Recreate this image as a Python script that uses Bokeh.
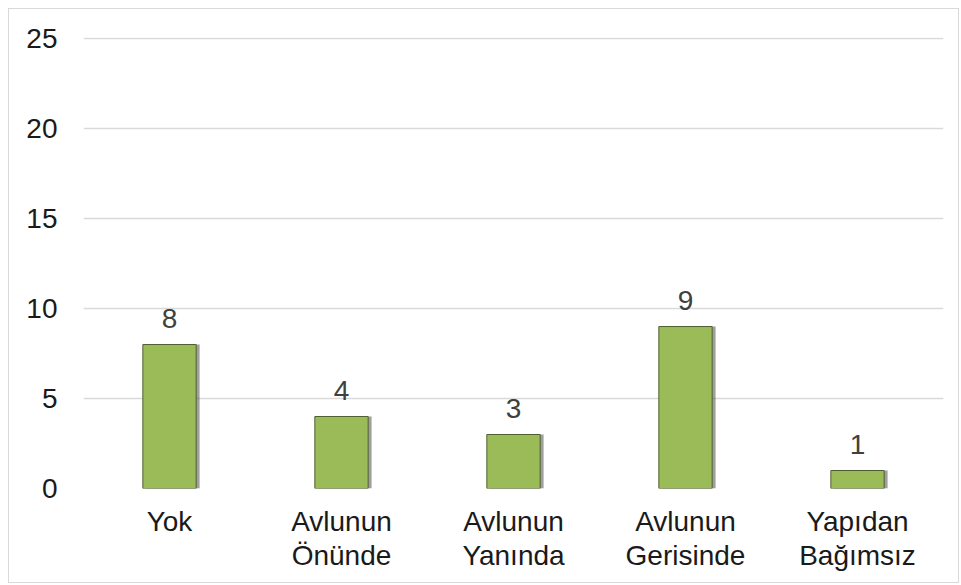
from bokeh.plotting import figure
from bokeh.models import ColumnDataSource, LabelSet, FactorRange
from bokeh.core.properties import value
from bokeh.transform import dodge
from bokeh.embed import file_html
from bokeh.resources import INLINE

categories = ["Yok", "Avlunun\nÖnünde", "Avlunun\nYanında", "Avlunun\nGerisinde", "Yapıdan\nBağımsız"]
values = [8, 4, 3, 9, 1]
y_ticks = [0, 5, 10, 15, 20, 25]

FONT = "Liberation Sans"
BAR_W = 0.31

src = ColumnDataSource(dict(x=categories, top=values, lab=[str(v) for v in values]))

p = figure(x_range=FactorRange(*categories), y_range=(0, 25.06),
           width=951, height=575, output_backend="svg", toolbar_location=None,
           min_border_left=74, min_border_right=17, min_border_top=28, min_border_bottom=96)
p.styles = {"border": "1px solid #d9d9d9", "margin-left": "8px", "margin-top": "8px"}
p.outline_line_color = None
p.background_fill_color = "white"
p.border_fill_color = "white"

# shadow
p.vbar(x=dodge("x", 0.02, range=p.x_range), top="top", bottom=-0.12, width=BAR_W, source=src,
       fill_color="#404040", fill_alpha=0.5, line_color=None)
p.vbar(x="x", top="top", bottom=0, width=BAR_W, source=src,
       fill_color="#9BBB59", line_color="#4f5f2f", line_width=1)

labels = LabelSet(x="x", y="top", text="lab", source=src, text_align="center",
                  text_baseline="bottom", y_offset=17, text_font=value(FONT),
                  text_font_size="28px", text_color="#404040")
p.add_layout(labels)

p.xgrid.grid_line_color = None
p.ygrid.grid_line_color = "#d9d9d9"
p.ygrid.grid_line_width = 1.5
p.yaxis.ticker = y_ticks

for ax in (p.xaxis, p.yaxis):
    ax.axis_line_color = None
    ax.major_tick_line_color = None
    ax.minor_tick_line_color = None
    ax.major_tick_out = 0
    ax.major_tick_in = 0
    ax.major_label_text_font = FONT
    ax.major_label_text_font_size = "28px"
    ax.major_label_text_color = "#1a1a1a"

p.xaxis.major_label_text_line_height = 1.12
p.yaxis.major_label_standoff = 26
p.xaxis.major_label_standoff = 17

open("out.html", "w").write(file_html(p, INLINE))
